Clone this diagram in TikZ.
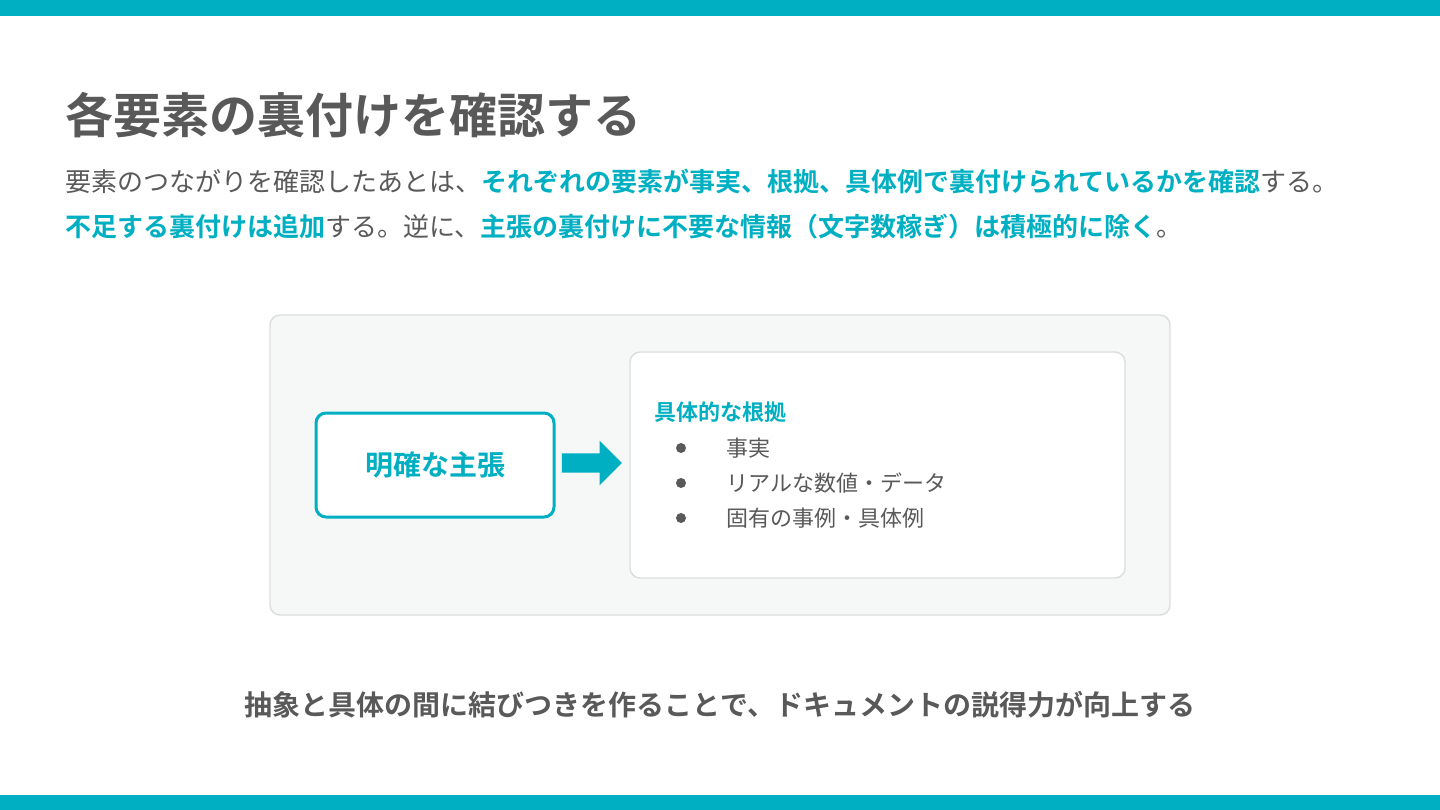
\documentclass[tikz,border=0pt]{standalone}
\usepackage{fontspec}
\setmainfont{Noto Sans CJK JP}[BoldFont={Noto Sans CJK JP Bold}]
\usetikzlibrary{shapes.arrows}
\definecolor{accent}{HTML}{00AFC1}
\definecolor{ink}{HTML}{595959}
\definecolor{panel}{HTML}{F6F8F8}
\definecolor{rim}{HTML}{DDDDDD}
\newcommand{\hl}[1]{{\bfseries\color{accent}#1}}
\tikzset{
  line/.style={anchor=west, inner sep=0pt, text=ink, font=\fontsize{19.5}{23}\selectfont},
  item/.style={anchor=west, inner sep=0pt, text=ink, font=\fontsize{16.5}{20}\selectfont},
  dot/.style={circle, fill=ink, inner sep=0pt, minimum size=7.5pt}
}
\begin{document}
\begin{tikzpicture}[x=0.75pt, y=-0.75pt]
            \useasboundingbox (0,0) rectangle (1440,810);
            \fill[accent] (0,0) rectangle (1440,16);
            \fill[accent] (0,795) rectangle (1440,810);
            \node (title) [anchor=west, inner sep=0pt, text=ink, font=\fontsize{36}{40}\selectfont\bfseries] at (65,115) {各要素の裏付けを確認する};
            \node (lineA) [line] at (65,181) {要素のつながりを確認したあとは、\hl{それぞれの要素が事実、根拠、具体例で裏付けられているかを確認}する。};
            \node (lineB) [line] at (65,227) {\hl{不足する裏付けは追加}する。逆に、\hl{主張の裏付けに不要な情報（文字数稼ぎ）は積極的に除く}。};
            \draw[rim, fill=panel, line width=1.1pt, rounded corners=7.5pt] (270,315) rectangle (1170,615);
            \draw[rim, fill=white, line width=1.1pt, rounded corners=7.5pt] (630,352) rectangle (1125,578);
            \node (claim) [draw=accent, line width=2.25pt, fill=white, rounded corners=7.5pt, minimum width=178.5pt, minimum height=78pt, text=accent, font=\fontsize{21}{24}\selectfont\bfseries] at (435,465) {明確な主張};
            \node (arrow) [single arrow, fill=accent, inner xsep=0pt, inner ysep=7.1pt, minimum height=45pt, single arrow head extend=9.4pt] at (587,463) {};
            \node (head) [anchor=west, inner sep=0pt, text=accent, font=\fontsize{16.5}{20}\selectfont\bfseries] at (654,412) {具体的な根拠};
            \node (d1) [dot] at (681,448) {};
            \node (t1) [item] at (726,448) {事実};
            \node (d2) [dot] at (681,483) {};
            \node (t2) [item] at (726,483) {リアルな数値・データ};
            \node (d3) [dot] at (681,518) {};
            \node (t3) [item] at (726,518) {固有の事例・具体例};
            \node (summary) [inner sep=0pt, text=ink, font=\fontsize{21}{24}\selectfont\bfseries] at (720,705) {抽象と具体の間に結びつきを作ることで、ドキュメントの説得力が向上する};
        \end{tikzpicture}
\end{document}
